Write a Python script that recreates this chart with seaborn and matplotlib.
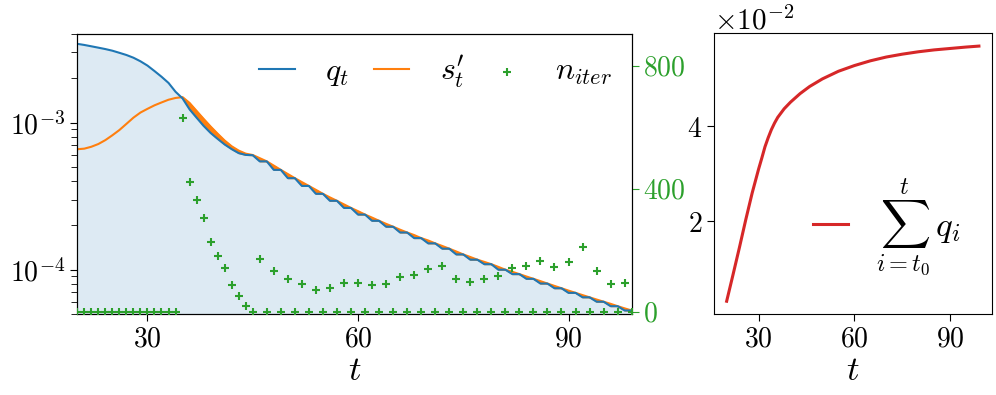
import numpy as np
import matplotlib
matplotlib.use("Agg")
import matplotlib.pyplot as plt
from matplotlib.ticker import ScalarFormatter
import seaborn as sb

# values
t = list(range(20, 100))

q_t = [3.43e-3, 3.37e-3, 3.30e-3, 3.23e-3, 3.16e-3, 3.08e-3, 2.98e-3, 2.88e-3,
       2.76e-3, 2.61e-3, 2.44e-3, 2.24e-3, 2.05e-3, 1.86e-3, 1.62e-3, 1.46e-3,
       1.23e-3, 1.08e-3, 9.5e-4, 8.5e-4, 7.75e-4, 7.1e-4, 6.6e-4, 6.2e-4,
       6.03e-4, 6.0e-4,
       5.45e-4, 5.45e-4, 4.77e-4, 4.77e-4, 4.19e-4, 4.19e-4, 3.71e-4, 3.71e-4,
       3.28e-4, 3.28e-4, 2.94e-4, 2.94e-4, 2.63e-4, 2.63e-4, 2.37e-4, 2.37e-4,
       2.15e-4, 2.15e-4, 1.96e-4, 1.96e-4, 1.79e-4, 1.79e-4, 1.64e-4, 1.64e-4,
       1.51e-4, 1.51e-4, 1.39e-4, 1.39e-4, 1.27e-4, 1.27e-4, 1.17e-4, 1.17e-4,
       1.09e-4, 1.09e-4, 1.00e-4, 1.00e-4, 9.33e-5, 9.33e-5, 8.67e-5, 8.67e-5,
       8.05e-5, 8.05e-5, 7.48e-5, 7.48e-5, 6.96e-5, 6.96e-5, 6.49e-5, 6.49e-5,
       6.06e-5, 6.06e-5, 5.65e-5, 5.65e-5, 5.28e-5, 5.28e-5]

s_t = [6.59e-4, 6.65e-4, 6.85e-4, 7.15e-4, 7.6e-4, 8.2e-4, 8.9e-4, 9.8e-4,
       1.08e-3, 1.17e-3, 1.24e-3, 1.31e-3, 1.37e-3, 1.43e-3, 1.47e-3, 1.49e-3,
       1.36e-3, 1.20e-3, 1.06e-3, 9.4e-4, 8.4e-4, 7.55e-4, 6.9e-4, 6.45e-4,
       6.15e-4, 6.02e-4,
       5.73e-4, 5.45e-4, 5.10e-4, 4.77e-4, 4.47e-4, 4.19e-4, 3.94e-4, 3.71e-4,
       3.49e-4, 3.28e-4, 3.10e-4, 2.94e-4, 2.78e-4, 2.63e-4, 2.50e-4, 2.37e-4,
       2.26e-4, 2.15e-4, 2.05e-4, 1.96e-4, 1.87e-4, 1.79e-4, 1.72e-4, 1.64e-4,
       1.58e-4, 1.51e-4, 1.45e-4, 1.39e-4, 1.33e-4, 1.27e-4, 1.22e-4, 1.17e-4,
       1.13e-4, 1.09e-4, 1.045e-4, 1.00e-4, 9.68e-5, 9.33e-5, 8.99e-5, 8.67e-5,
       8.36e-5, 8.05e-5, 7.76e-5, 7.48e-5, 7.21e-5, 6.96e-5, 6.72e-5, 6.49e-5,
       6.27e-5, 6.06e-5, 5.86e-5, 5.65e-5, 5.46e-5, 5.28e-5]

n_iter = [0, 0, 0, 0, 0, 0, 0, 0, 0, 0, 0, 0, 0, 0, 0,
          629, 423, 363, 304, 228, 181, 141, 87, 51, 18, 0,
          170, 0, 132, 0, 105, 0, 89, 0, 71, 0, 76, 0, 94, 0,
          94, 0, 87, 0, 91, 0, 114, 0, 118, 0, 138, 0, 149, 0,
          107, 0, 98, 0, 105, 0, 116, 0, 141, 0, 149, 0, 166, 0,
          146, 0, 161, 0, 211, 0, 132, 0, 89, 0, 92, 0]

t_sum = [20, 22, 24, 26, 28, 30, 31, 32, 33, 34, 35, 36, 38, 40, 43, 46, 50,
         55, 60, 65, 70, 75, 80, 85, 90, 95, 99]
sum_q = [0.0032, 0.0088, 0.0145, 0.0204, 0.0260, 0.0310, 0.0333, 0.0357,
         0.0376, 0.0393, 0.0407, 0.0419, 0.0437, 0.0451, 0.0469, 0.0484,
         0.0500, 0.0516, 0.0528, 0.0538, 0.0546, 0.0552, 0.0557, 0.0561,
         0.0564, 0.0567, 0.0569]

# computer-modern look without latex
plt.rcParams['font.family'] = 'serif'
plt.rcParams['font.serif'] = ['cmr10', 'DejaVu Serif']
plt.rcParams['mathtext.fontset'] = 'cm'
plt.rcParams['axes.formatter.use_mathtext'] = True
plt.rcParams['axes.unicode_minus'] = False

fs = 20

fig = plt.figure(figsize=(9.96, 3.95), dpi=100)
ax = fig.add_axes([0.0776, 0.2051, 0.5566, 0.7088])
ax2 = ax.twinx()
axr = fig.add_axes([0.7169, 0.2051, 0.2786, 0.7105])

tt = np.array(t)
qq = np.array(q_t)
ss = np.array(s_t)

# left panel
ax.fill_between(tt, qq, 1e-6, color="C0", alpha=0.15, linewidth=0)
ax.fill_between(tt, qq, ss, where=tt >= 35, color="C1", linewidth=0.8,
                edgecolor="C1", zorder=2)
sb.lineplot(x=tt, y=ss, ax=ax, color="C1", lw=1.5, label=r"$s^{\prime}_t$", zorder=2)
sb.lineplot(x=tt, y=qq, ax=ax, color="C0", lw=1.5, label=r"$q_t$", zorder=3)
ax.set_yscale("log")
ax.set_xlim(20, 99)
ax.set_ylim(5e-5, 4e-3)
ax.set_xticks([30, 60, 90])
ax.set_xlabel("$t$", fontsize=25, labelpad=2)
ax.tick_params(labelsize=fs, which="major", length=5)
ax.tick_params(which="minor", length=4.5)
if ax.get_legend() is not None:
    ax.get_legend().remove()

sb.scatterplot(x=tt, y=n_iter, ax=ax2, color="C2", marker="+", s=30,
               linewidth=1.5, label=r"$n_{iter}$", zorder=4)
ax2.set_ylim(-7.5, 903)
ax2.set_yticks([0, 400, 800])
ax2.tick_params(axis="y", colors="C2", labelsize=fs, length=5)
if ax2.get_legend() is not None:
    ax2.get_legend().remove()

h1, l1 = ax.get_legend_handles_labels()
h2, l2 = ax2.get_legend_handles_labels()
hd = dict(zip(l1 + l2, h1 + h2))
order = [r"$q_t$", r"$s^{\prime}_t$", r"$n_{iter}$"]
ax2.legend([hd[k] for k in order], order, loc="upper right", ncol=3,
           frameon=False, fontsize=23, handlelength=1.1, handletextpad=0.95,
           columnspacing=0.8, borderaxespad=0.2)

# right panel
sb.lineplot(x=t_sum, y=sum_q, ax=axr, color="C3", lw=2.2,
            label=r"$\sum_{i=t_0}^{t}\,q_i$")
fmt = ScalarFormatter(useMathText=True)
fmt.set_powerlimits((0, 0))
axr.yaxis.set_major_formatter(fmt)
axr.yaxis.get_offset_text().set_fontsize(21)
axr.set_xticks([30, 60, 90])
axr.set_xlabel("$t$", fontsize=25, labelpad=2)
axr.tick_params(labelsize=fs, length=5)
axr.legend(loc="center right", bbox_to_anchor=(1.0, 0.31), frameon=False,
           fontsize=25, handlelength=1.0, handletextpad=0.8)

fig.savefig("out.png", dpi=100)
